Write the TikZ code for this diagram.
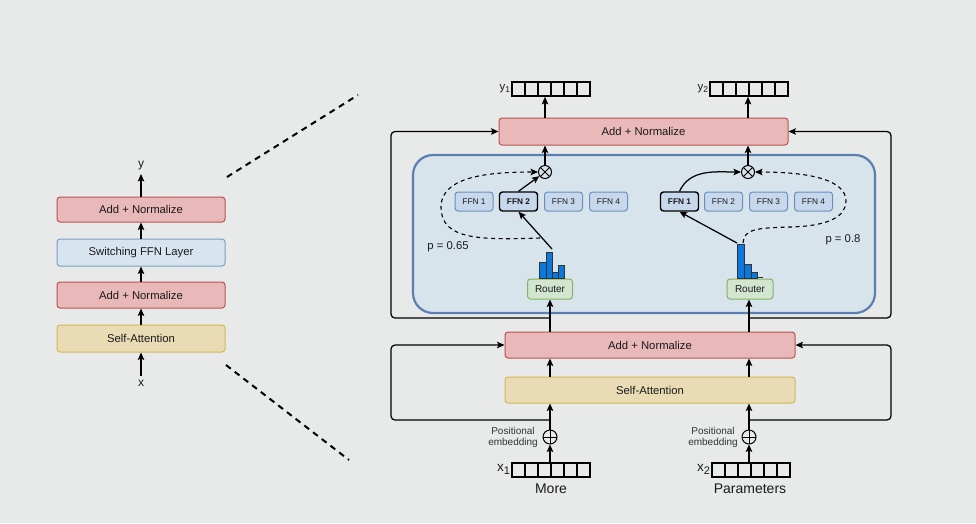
\documentclass[tikz,border=0pt]{standalone}
\usepackage{fontspec}
\setmainfont{Liberation Sans}
\usetikzlibrary{arrows.meta,calc,positioning}
\definecolor{bgc}{HTML}{E8E9E9}
\definecolor{pinkf}{HTML}{E9B8B8}
\definecolor{pinkd}{HTML}{B85450}
\definecolor{lbluef}{HTML}{D9E5EE}
\definecolor{lblued}{HTML}{7A9CC8}
\definecolor{contf}{HTML}{D7E4EC}
\definecolor{contd}{HTML}{5B7FB0}
\definecolor{ffnf}{HTML}{C8D8EC}
\definecolor{ffnd}{HTML}{6C8EBF}
\definecolor{saf}{HTML}{E9DCB5}
\definecolor{sad}{HTML}{D6B656}
\definecolor{rtf}{HTML}{D2E5CF}
\definecolor{rtd}{HTML}{82B366}
\definecolor{barc}{HTML}{0A78DC}
\definecolor{txt}{HTML}{1A1A1A}
\begin{document}
\begin{tikzpicture}[x=1pt,y=-1pt,
  font=\fontsize{11.3}{13}\selectfont, text=txt,
  arr/.style={-{Stealth[length=7.5pt,width=6.5pt,inset=1.5pt]}, line width=1.25pt, draw=black},
  box/.style={draw, rounded corners=3pt, line width=1pt, inner sep=0pt},
  pinkbox/.style={box, fill=pinkf, draw=pinkd},
  sabox/.style={box, fill=saf, draw=sad},
  ffnbox/.style={box, fill=ffnf, draw=ffnd, minimum width=38pt, minimum height=19pt, font=\fontsize{8.3}{10}\selectfont},
  ffnsel/.style={ffnbox, draw=black, line width=1.4pt, font=\fontsize{8.3}{10}\selectfont\bfseries},
  router/.style={box, fill=rtf, draw=rtd, minimum height=20pt, font=\fontsize{10}{12}\selectfont},
  vecbox/.style={draw, line width=1.6pt, minimum width=78pt, minimum height=14pt, inner sep=0pt,
    path picture={\foreach \i in {1,...,5}{\draw[line width=1.8pt] ($(path picture bounding box.south west)!\i/6!(path picture bounding box.south east)$) -- ($(path picture bounding box.north west)!\i/6!(path picture bounding box.north east)$);}}},
  otimes/.style={circle, draw, line width=1pt, minimum size=13pt, inner sep=0pt,
    path picture={\draw[line width=1pt] (path picture bounding box.north west) -- (path picture bounding box.south east) (path picture bounding box.north east) -- (path picture bounding box.south west);}},
  oplus/.style={circle, draw, line width=1pt, minimum size=14pt, inner sep=0pt,
    path picture={\draw[line width=1pt] (path picture bounding box.north) -- (path picture bounding box.south) (path picture bounding box.east) -- (path picture bounding box.west);}},
  zoomline/.style={line width=2pt, dash pattern=on 6pt off 5pt},
  dashedarr/.style={arr, dash pattern=on 4pt off 3.5pt, line width=1.1pt}
]
\useasboundingbox (0,0) rectangle (976,523);
\fill[bgc] (0,0) rectangle (976,523);

% ---------- left column ----------
\node[font=\fontsize{12}{14}\selectfont] (Ly) at (141,166) {y};
\node[pinkbox, minimum width=168pt, minimum height=25pt] (Lan2) at (141,209.5) {Add + Normalize};
\node[box, fill=lbluef, draw=lblued, minimum width=168pt, minimum height=27pt] (Lffn) at (141,252.5) {Switching FFN Layer};
\node[pinkbox, minimum width=168pt, minimum height=26pt] (Lan1) at (141,295) {Add + Normalize};
\node[sabox, minimum width=168pt, minimum height=27pt] (Lsa) at (141,338.5) {Self-Attention};
\node[font=\fontsize{12}{14}\selectfont] (Lx) at (141,383) {x};
\draw[arr] (Lx) -- (Lsa);
\draw[arr] (Lsa) -- (Lan1);
\draw[arr] (Lan1) -- (Lffn);
\draw[arr] (Lffn) -- (Lan2);
\draw[arr] (Lan2) -- (Ly);

\coordinate (zA1) at (227,177);
\coordinate (zA2) at (358,95);
\coordinate (zB1) at (226,365);
\coordinate (zB2) at (349,460);
\draw[zoomline] (zA1) -- (zA2);
\draw[zoomline] (zB1) -- (zB2);

% ---------- right: MoE container ----------
\node[draw=contd, fill=contf, line width=2.2pt, rounded corners=20pt, minimum width=462pt, minimum height=158pt] (moe) at (644,234) {};

\node[pinkbox, minimum width=289pt, minimum height=27pt] (topAN) at (643.5,131.5) {Add + Normalize};
\node[vecbox] (y1v) at (551,89) {};
\node[vecbox] (y2v) at (749,89) {};
\node[anchor=east, inner sep=1pt] (y1l) at (y1v.west) {y\raisebox{-2pt}{\fontsize{8.5}{9}\selectfont 1}};
\node[anchor=east, inner sep=1pt] (y2l) at (y2v.west) {y\raisebox{-2pt}{\fontsize{8.5}{9}\selectfont 2}};

\node[otimes] (otL) at (545,172) {};
\node[otimes] (otR) at (748,172) {};

\node[ffnbox] (fL1) at (474,201.5) {FFN 1};
\node[ffnsel] (fL2) at (518.5,201.5) {FFN 2};
\node[ffnbox] (fL3) at (563.5,201.5) {FFN 3};
\node[ffnbox] (fL4) at (608.5,201.5) {FFN 4};
\node[ffnsel] (fR1) at (679.5,201.5) {FFN 1};
\node[ffnbox] (fR2) at (723.5,201.5) {FFN 2};
\node[ffnbox] (fR3) at (768.5,201.5) {FFN 3};
\node[ffnbox] (fR4) at (813.5,201.5) {FFN 4};

\node[router, minimum width=45pt] (rtL) at (550,289) {Router};
\node[router, minimum width=46pt] (rtR) at (750,289) {Router};

% bar charts
\begin{scope}[fill=barc, draw=black!80, line width=0.6pt]
\filldraw (539,262) rectangle (546,278);
\filldraw (546,252) rectangle (552,278);
\filldraw (552,272) rectangle (558,278);
\filldraw (558,265) rectangle (564,278);
\filldraw (737,244) rectangle (744,278);
\filldraw (744,264) rectangle (751,278);
\filldraw (751,272) rectangle (757,278);
\draw (757,277.5) -- (763,277.5);
\end{scope}
\coordinate (bLtop) at (552,249);
\coordinate (dsL) at (540,238);
\coordinate (bRtop) at (737,243);
\coordinate (dsR) at (743,243);

\node (pL) at (448,247) {p = 0.65};
\node (pR) at (843,240) {p = 0.8};

\draw[arr] (bLtop) -- (fL2.south);
\draw[arr] (fL2.north) -- (otL);
\draw[dashedarr] (dsL) .. controls (480,240) and (441,240) .. (441,207) .. controls (441,176) and (490,172) .. (otL.west);
\draw[arr] (bRtop) -- (fR1.south);
\draw[arr] (fR1.north) to[out=65, in=180] (otR.west);
\draw[dashedarr] (dsR) .. controls (744,229) and (756,228) .. (790,227) .. controls (830,226) and (846,216) .. (846,201) .. controls (846,180) and (810,172) .. (otR.east);

\draw[arr] (otL) -- (otL |- topAN.south);
\draw[arr] (otR) -- (otR |- topAN.south);
\draw[arr] (topAN.north -| otL) -- (y1v.south -| otL);
\draw[arr] (topAN.north -| otR) -- (y2v.south -| otR);

% ---------- lower part ----------
\node[pinkbox, minimum width=290pt, minimum height=26pt] (lowAN) at (650,345) {Add + Normalize};
\node[sabox, minimum width=290pt, minimum height=26pt] (SA) at (650,390) {Self-Attention};
\node[oplus] (opL) at (550,437) {};
\node[oplus] (opR) at (749,437) {};
\node[vecbox] (x1v) at (551,470) {};
\node[vecbox] (x2v) at (751,470) {};
\node[anchor=east, inner sep=1pt, font=\fontsize{13.5}{14}\selectfont] (x1l) at ($(x1v.west)+(0,-1)$) {x\raisebox{-3pt}{\fontsize{11}{12}\selectfont 1}};
\node[anchor=east, inner sep=1pt, font=\fontsize{13.5}{14}\selectfont] (x2l) at ($(x2v.west)+(0,-1)$) {x\raisebox{-3pt}{\fontsize{11}{12}\selectfont 2}};
\node[font=\fontsize{14}{16}\selectfont] (wMore) at (551,489) {More};
\node[font=\fontsize{14}{16}\selectfont] (wPar) at (750,489) {Parameters};
\node[align=center, font=\fontsize{10}{11.5}\selectfont, text=black!80] (peL) at (513,437.5) {Positional\\embedding};
\node[align=center, font=\fontsize{10}{11.5}\selectfont, text=black!80] (peR) at (713,437.5) {Positional\\embedding};

\draw[arr] (x1v.north -| opL) -- (opL);
\draw[arr] (x2v.north -| opR) -- (opR);
\draw[arr] (opL) -- (opL |- SA.south);
\draw[arr] (opR) -- (opR |- SA.south);
\draw[arr] (SA.north -| opL) -- (lowAN.south -| opL);
\draw[arr] (SA.north -| opR) -- (lowAN.south -| opR);
\draw[arr] (lowAN.north -| rtL) -- (rtL.south);
\draw[arr] (lowAN.north -| opR) -- (opR |- rtR.south);

% residual connections
\coordinate (jL1) at (550,420);
\coordinate (jR1) at (749,420);
\coordinate (cL1) at (391,345);
\coordinate (cR1) at (891,345);
\draw[arr, rounded corners=4pt] (jL1) -| (cL1) -- (lowAN.west);
\draw[arr, rounded corners=4pt] (jR1) -| (cR1) -- (lowAN.east);
\coordinate (jL2) at (550,318);
\coordinate (jR2) at (749,318);
\coordinate (cL2) at (391,131.5);
\coordinate (cR2) at (891,131.5);
\draw[arr, rounded corners=4pt] (jL2) -| (cL2) -- (topAN.west);
\draw[arr, rounded corners=4pt] (jR2) -| (cR2) -- (topAN.east);
\end{tikzpicture}
\end{document}
